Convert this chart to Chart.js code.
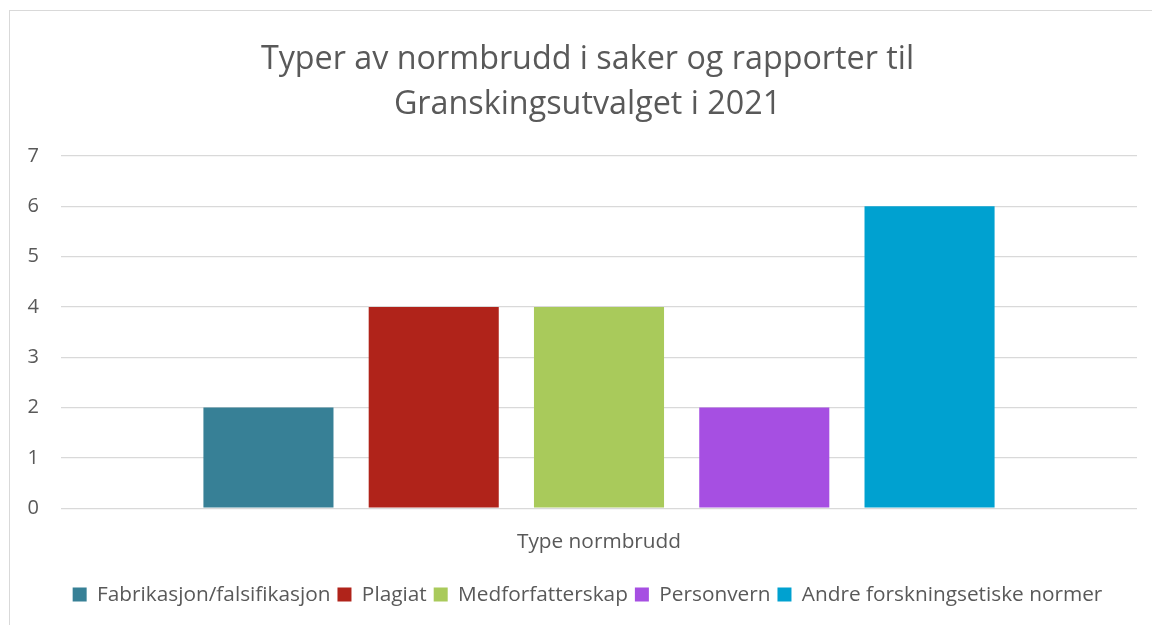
<!DOCTYPE html>
<html>
<head>
<meta charset="utf-8">
<script src="https://cdn.jsdelivr.net/npm/chart.js@4/dist/chart.umd.min.js"></script>
<style>
html,body{margin:0;padding:0;background:#fff;overflow:hidden;}
#frame{position:absolute;left:9px;top:10px;width:1160px;height:640px;border:1px solid #d9d9d9;box-sizing:border-box;}
#wrap{position:absolute;left:0;top:0;width:1152px;height:625px;overflow:hidden;}
</style>
</head>
<body>
<div id="frame"></div>
<div id="wrap"><canvas id="c" width="1175" height="625"></canvas></div>
<script>
const categories = ['Type normbrudd'];
const seriesNames = ['Fabrikasjon/falsifikasjon', 'Plagiat', 'Medforfatterskap', 'Personvern', 'Andre forskningsetiske normer'];
const fabrikasjon = [2];
const plagiat = [4];
const medforfatterskap = [4];
const personvern = [2];
const andre = [6];
const yTicks = [0, 1, 2, 3, 4, 5, 6, 7];
const colors = ['#378096', '#B0231A', '#A9CA5B', '#A64FE2', '#00A1D0'];
const seriesValues = [fabrikasjon, plagiat, medforfatterskap, personvern, andre];

const FONT = "'Open Sans', Lato, sans-serif";
const GRAY = '#595959';

new Chart(document.getElementById('c'), {
  type: 'bar',
  data: {
    labels: categories,
    datasets: seriesNames.map((n, i) => ({
      label: n,
      data: seriesValues[i],
      backgroundColor: colors[i],
      borderWidth: 0,
      categoryPercentage: 0.768,
      barPercentage: 0.787
    }))
  },
  options: {
    responsive: false,
    animation: false,
    devicePixelRatio: 1,
    layout: { padding: { left: 0, right: 0, top: 37, bottom: 10 } },
    plugins: {
      title: {
        display: true,
        text: ['Typer av normbrudd i saker og rapporter til', 'Granskingsutvalget i 2021'],
        color: GRAY,
        font: { family: FONT, size: 32.3, weight: '400', lineHeight: 1.393 },
        padding: { top: 0, bottom: 29 }
      },
      legend: {
        position: 'bottom',
        labels: {
          color: GRAY,
          font: { family: FONT, size: 20.8 },
          boxWidth: 14,
          boxHeight: 14,
          padding: 7
        }
      },
      tooltip: { enabled: false }
    },
    scales: {
      x: {
        grid: { display: false },
        border: { display: false },
        ticks: { color: GRAY, font: { family: FONT, size: 20.8 }, padding: 13 },
        afterFit(s) { s.height = 69; }
      },
      y: {
        min: 0, max: 7,
        grid: { color: '#d9d9d9', lineWidth: 1.3, drawTicks: false },
        border: { display: false },
        ticks: {
          stepSize: 1,
          color: GRAY,
          font: { family: FONT, size: 20 },
          padding: 22,
          callback: (v) => yTicks.includes(v) ? String(v) : ''
        },
        afterFit(s) { s.width = 61; }
      },
      y2: {
        position: 'right',
        display: true,
        grid: { display: false },
        border: { display: false },
        ticks: { display: false },
        afterFit(s) { s.width = 38; }
      }
    }
  }
});
</script>
</body>
</html>
